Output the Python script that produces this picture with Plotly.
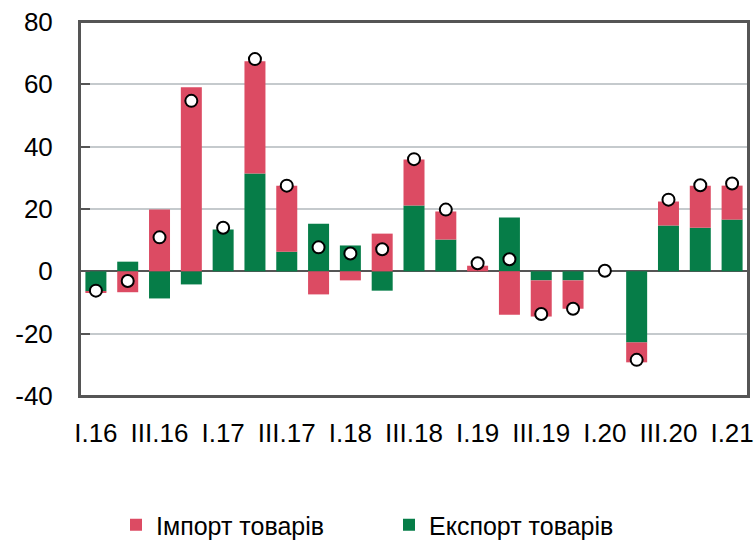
import plotly.graph_objects as go

quarters = ["I.16", "II.16", "III.16", "IV.16", "I.17", "II.17", "III.17", "IV.17",
            "I.18", "II.18", "III.18", "IV.18", "I.19", "II.19", "III.19", "IV.19",
            "I.20", "II.20", "III.20", "IV.20", "I.21"]
export_goods = [-6.4, 3.1, -8.7, -4.2, 13.4, 31.4, 6.3, 15.3, 8.3, -6.2, 21.1, 10.2,
                0.0, 17.3, -2.9, -2.9, 0.0, -22.8, 14.7, 14.0, 16.6]
import_goods = [-0.3, -6.7, 19.8, 59.1, 0.0, 36.0, 21.2, -7.4, -2.9, 12.1, 14.8, 9.0,
                1.8, -13.9, -11.6, -9.1, 0.0, -6.4, 7.7, 13.5, 10.9]
total = [-6.2, -3.1, 10.9, 54.7, 14.0, 68.1, 27.5, 7.7, 5.7, 7.1, 36.0, 19.8,
         2.6, 3.9, -13.7, -12.0, 0.2, -28.4, 23.0, 27.6, 28.2]
tick_labels = ["I.16", "III.16", "I.17", "III.17", "I.18", "III.18", "I.19", "III.19",
               "I.20", "III.20", "I.21"]
y_ticks = [-40, -20, 0, 20, 40, 60, 80]
y_tick_labels = ["-40", "-20", "0", "20", "40", "60", "80"]

RED = "#dc4b63"
GREEN = "#067d48"
AXIS = "#555555"
GRID = "#c5cacd"
FONT = "Liberation Sans, Arial, sans-serif"

x = list(range(len(quarters)))
fig = go.Figure()
fig.add_trace(go.Bar(x=x, y=export_goods, name="Експорт товарів", marker_color=GREEN,
                     marker_line_width=0, legendrank=2, hovertext=quarters))
fig.add_trace(go.Bar(x=x, y=import_goods, name="Імпорт товарів", marker_color=RED,
                     marker_line_width=0, legendrank=1, hovertext=quarters))
fig.add_trace(go.Scatter(x=x, y=total, mode="markers", showlegend=False,
                         marker=dict(size=12, color="white", line=dict(color="black", width=2)),
                         hovertext=quarters))

rng = [-0.5, len(quarters) - 0.5]
boundaries = [3.5, 7.5, 11.5, 15.5, 19.5]
zero_pos = 40 / 120

W, H = 755, 541
fig.update_layout(
    width=W, height=H,
    margin=dict(l=80, r=7, t=22, b=145),
    plot_bgcolor="white", paper_bgcolor="white",
    barmode="relative", bargap=0.34,
    font=dict(family=FONT, size=26, color="#000000"),
    showlegend=True,
    legend=dict(orientation="h", xref="container", yref="container",
                x=116 / W, xanchor="left", y=16 / H, yanchor="middle",
                font=dict(size=25), entrywidth=228, entrywidthmode="pixels",
                itemwidth=30),
    xaxis=dict(range=rng, tickmode="array", tickvals=list(range(0, 21, 2)), ticktext=tick_labels,
               showgrid=False, showline=True, linecolor=AXIS, linewidth=2, mirror=True,
               automargin=False, ticklabeloverflow="allow",
               ticks="", ticklabelstandoff=13, zeroline=False),
    xaxis2=dict(range=rng, overlaying="x", anchor="free", position=zero_pos, side="bottom",
                showline=False, showgrid=True, gridcolor=GRID, gridwidth=2, automargin=False,
                tickmode="array", tickvals=boundaries, ticks="inside", ticklen=8,
                tickwidth=2, tickcolor=AXIS, showticklabels=False, zeroline=False),
    yaxis=dict(range=[-40, 80], tickmode="array", tickvals=y_ticks, ticktext=y_tick_labels,
               showgrid=True, gridcolor=GRID, gridwidth=2, automargin=False,
               ticklabeloverflow="allow",
               showline=True, linecolor=AXIS, linewidth=2, mirror=True,
               ticks="inside", ticklen=10, tickwidth=2, tickcolor=AXIS,
               ticklabelstandoff=20,
               zeroline=True, zerolinecolor=AXIS, zerolinewidth=2),
    shapes=[dict(type="rect", xref="paper", yref="paper", x0=0, x1=1, y0=0, y1=1,
                 line=dict(color=AXIS, width=2), fillcolor="rgba(0,0,0,0)", layer="above")],
)
fig.write_html("out.html", config={"displayModeBar": False},
               post_script="document.body.style.margin='0';document.body.style.overflow='hidden';")
